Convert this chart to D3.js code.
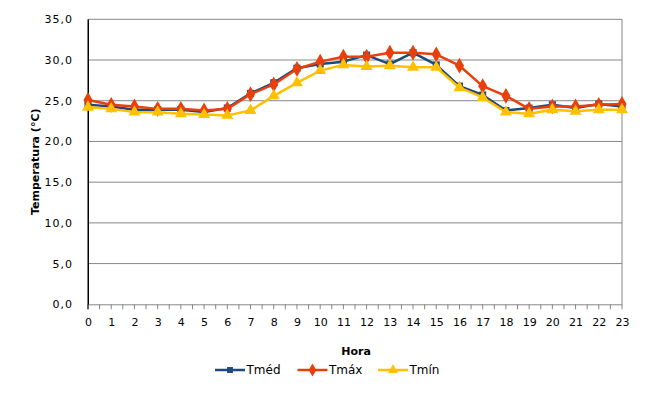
<!DOCTYPE html>
<html><head><meta charset="utf-8">
<script src="https://cdn.jsdelivr.net/npm/d3@7"></script>
<style>body{margin:0;background:#fff}svg{display:block}text{font-family:"DejaVu Sans",Verdana,sans-serif;fill:#000}</style>
</head><body><svg id="c" width="653" height="400"></svg>
<script>
const hours = d3.range(0, 24);
const tmed = [24.5,24.3,23.9,23.9,23.9,23.6,24.1,25.9,27.2,29.0,29.5,29.8,30.6,29.5,30.9,29.4,26.8,25.7,23.8,24.1,24.5,24.1,24.6,24.3];
const tmax = [25.1,24.5,24.3,24.0,24.0,23.8,24.0,25.8,27.0,28.9,29.8,30.4,30.4,30.9,30.9,30.7,29.3,26.8,25.6,24.0,24.3,24.3,24.5,24.6];
const tmin = [24.2,24.0,23.6,23.6,23.4,23.3,23.2,23.8,25.6,27.2,28.7,29.4,29.2,29.3,29.1,29.1,26.6,25.4,23.6,23.4,23.9,23.7,23.9,23.9];
const yTicks = [0,5,10,15,20,25,30,35];
const seriesNames = ["Tméd","Tmáx","Tmín"];
const colors = ["#1F497D","#E8400C","#FFC000"];
const shapes = [d3.symbolSquare, d3.symbolDiamond, d3.symbolTriangle];
const series = [tmed, tmax, tmin];

const svg = d3.select("#c");
const L = 88, R = 622, T = 19.3, B = 304.3;
const x = d3.scaleLinear().domain([0,23]).range([L,R]);
const y = d3.scaleLinear().domain([0,35]).range([B,T]);

// gridlines
svg.append("g").selectAll("line").data(yTicks.filter(d=>d>0)).join("line")
  .attr("x1",L).attr("x2",R).attr("y1",d=>y(d)).attr("y2",d=>y(d))
  .attr("stroke","#868686").attr("stroke-width",1);
// right border
svg.append("line").attr("x1",R).attr("x2",R).attr("y1",T).attr("y2",B).attr("stroke","#868686");

// y axis
const ya = svg.append("g").attr("transform",`translate(${L},0)`)
  .call(d3.axisLeft(y).tickValues(yTicks).tickSize(0).tickPadding(15).tickFormat(d=>d3.format(".1f")(d).replace(".",",")));
ya.select(".domain").attr("stroke","#000");
ya.selectAll("text").style("font-size","11px").style("letter-spacing","1px").attr("fill","#000");

// x axis with half-step ticks
const minor = d3.range(0, 23.01, 0.5);
svg.append("g").selectAll("line").data(minor).join("line")
  .attr("x1",d=>x(d)).attr("x2",d=>x(d)).attr("y1",B).attr("y2",B+5)
  .attr("stroke","#868686");
const xa = svg.append("g").attr("transform",`translate(0,${B})`)
  .call(d3.axisBottom(x).tickValues(hours).tickSize(0).tickPadding(14).tickFormat(d3.format("d")));
xa.select(".domain").attr("stroke","#868686");
xa.selectAll("text").style("font-size","11px").attr("fill","#000");
svg.append("line").attr("x1",L).attr("x2",L).attr("y1",T).attr("y2",B+5).attr("stroke","#000");

// titles
svg.append("text").attr("x",(L+R)/2+1).attr("y",355).attr("text-anchor","middle")
  .style("font-size","11px").style("font-weight","bold").text("Hora");
svg.append("text").attr("transform",`translate(39,${(T+B)/2}) rotate(-90)`).attr("text-anchor","middle")
  .style("font-size","11px").style("font-weight","bold").text("Temperatura (°C)");

// series
const line = d3.line().x((d,i)=>x(hours[i])).y(d=>y(d));
const sizes = [50, 72, 62];
series.forEach((s,k)=>{
  svg.append("path").datum(s).attr("d",line).attr("fill","none")
    .attr("stroke",colors[k]).attr("stroke-width",2.5).attr("stroke-linejoin","round");
  svg.append("g").selectAll("path").data(s).join("path")
    .attr("d",d3.symbol().type(shapes[k]).size(sizes[k]))
    .attr("transform",(d,i)=>`translate(${x(hours[i])},${y(d)})`)
    .attr("fill",colors[k]);
});

// legend
const lx = [215, 297.5, 378];
const lg = svg.append("g");
seriesNames.forEach((n,k)=>{
  const g = lg.append("g").attr("transform",`translate(${lx[k]},370)`);
  g.append("line").attr("x1",0).attr("x2",30).attr("stroke",colors[k]).attr("stroke-width",2.5);
  g.append("path").attr("d",d3.symbol().type(shapes[k]).size(sizes[k]*0.7)).attr("transform","translate(15,0)").attr("fill",colors[k]);
  g.append("text").attr("x",31.5).attr("y",4.3).style("font-size","12px").text(n);
});
</script></body></html>
